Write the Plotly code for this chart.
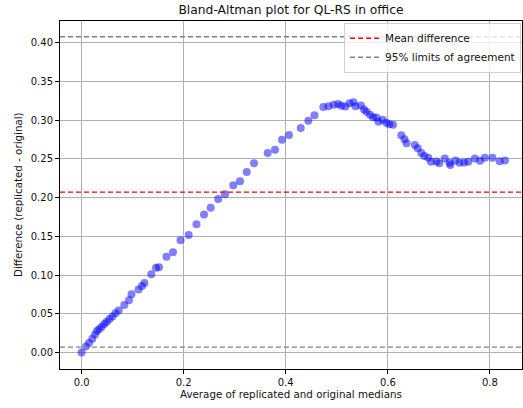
import plotly.graph_objects as go

# Average of replicated and original medians
avg_medians = [
    0.0000, 0.0086, 0.0145, 0.0210, 0.0263, 0.0302, 0.0347, 0.0394, 0.0445, 0.0492,
    0.0547, 0.0605, 0.0664, 0.0727, 0.0837, 0.0929, 0.0978, 0.1115, 0.1183, 0.1232,
    0.1366, 0.1458, 0.1516, 0.1663, 0.1791, 0.1938, 0.2098, 0.2251, 0.2398, 0.2529,
    0.2676, 0.2810, 0.2972, 0.3103, 0.3235, 0.3378, 0.3646, 0.3789, 0.3926, 0.4063,
    0.4293, 0.4442, 0.4563, 0.4736, 0.4837, 0.4939, 0.5027, 0.5088, 0.5167, 0.5249,
    0.5327, 0.5366, 0.5474, 0.5533, 0.5582, 0.5650, 0.5709, 0.5778, 0.5817, 0.5899,
    0.5970, 0.6029, 0.6101, 0.6264, 0.6326, 0.6366, 0.6528, 0.6585, 0.6655, 0.6714,
    0.6793, 0.6846, 0.6953, 0.7006, 0.7116, 0.7208, 0.7224, 0.7326, 0.7404, 0.7492,
    0.7574, 0.7704, 0.7806, 0.7900, 0.8050, 0.8190, 0.8295,
]

# Difference (replicated - original)
differences = [
    0.0000, 0.0077, 0.0123, 0.0178, 0.0232, 0.0278, 0.0303, 0.0332, 0.0368, 0.0398,
    0.0433, 0.0465, 0.0506, 0.0542, 0.0613, 0.0674, 0.0753, 0.0813, 0.0859, 0.0897,
    0.1010, 0.1095, 0.1100, 0.1237, 0.1295, 0.1450, 0.1517, 0.1655, 0.1782, 0.1870,
    0.1982, 0.2043, 0.2159, 0.2210, 0.2331, 0.2443, 0.2576, 0.2618, 0.2748, 0.2809,
    0.2899, 0.2993, 0.3064, 0.3170, 0.3179, 0.3198, 0.3209, 0.3187, 0.3176, 0.3219,
    0.3231, 0.3179, 0.3189, 0.3137, 0.3108, 0.3070, 0.3038, 0.3034, 0.2980, 0.3006,
    0.2966, 0.2946, 0.2940, 0.2806, 0.2753, 0.2701, 0.2679, 0.2637, 0.2576, 0.2537,
    0.2515, 0.2462, 0.2466, 0.2443, 0.2505, 0.2451, 0.2421, 0.2479, 0.2451, 0.2453,
    0.2462, 0.2505, 0.2476, 0.2515, 0.2515, 0.2470, 0.2480,
]

mean_diff = 0.2070
loa_upper = 0.4077
loa_lower = 0.0070

x_ticks = [0.0, 0.2, 0.4, 0.6, 0.8]
y_ticks = [0.00, 0.05, 0.10, 0.15, 0.20, 0.25, 0.30, 0.35, 0.40]

FONT = "DejaVu Sans"
GRID = "#b0b0b0"
TEXT = "#111111"

fig = go.Figure()

fig.add_trace(go.Scatter(
    x=avg_medians, y=differences, mode="markers",
    marker=dict(color="blue", opacity=0.5, size=8, line=dict(width=0)),
    showlegend=False, hoverinfo="skip",
))

fig.add_hline(y=mean_diff, line=dict(color="red", width=1.4, dash="5px,3px"),
              showlegend=True, name="Mean difference")
fig.add_hline(y=loa_upper, line=dict(color="gray", width=1.4, dash="5px,3px"),
              showlegend=True, name="95% limits of agreement")
fig.add_hline(y=loa_lower, line=dict(color="gray", width=1.4, dash="5px,3px"),
              showlegend=False)

axis_common = dict(
    showline=True, linecolor="black", linewidth=1, mirror=True,
    ticks="outside", ticklen=4, tickcolor="black", tickwidth=1,
    showgrid=True, gridcolor=GRID, gridwidth=0.8,
    zeroline=False, tickfont=dict(family=FONT, size=10, color=TEXT),
)

fig.update_xaxes(range=[-0.0423, 0.8628], tickvals=x_ticks, tickformat=".1f",
                 **axis_common)
fig.update_yaxes(range=[-0.0213, 0.4280], tickvals=y_ticks, tickformat=".2f",
                 **axis_common)

fig.update_layout(
    width=523, height=408,
    margin=dict(l=60, r=1, t=21, b=39),
    paper_bgcolor="white", plot_bgcolor="white",
    font=dict(family=FONT, size=10.3, color=TEXT),
    title=dict(text="Bland-Altman plot for QL-RS in office",
               font=dict(family=FONT, size=12.3, color=TEXT),
               x=0.5, xref="paper", xanchor="center",
               y=1 - 10 / 408, yref="container", yanchor="middle"),
    legend=dict(x=0.998, xanchor="right", y=0.995, yanchor="top",
                bgcolor="rgba(255,255,255,0.8)", bordercolor="#d0d0d0",
                borderwidth=1, font=dict(family=FONT, size=10.5, color=TEXT),
                itemwidth=30, tracegroupgap=0),
    annotations=[
        dict(text="Average of replicated and original medians",
             xref="paper", yref="paper", x=0.5, y=0, xanchor="center",
             yanchor="middle", yshift=-25, showarrow=False,
             font=dict(family=FONT, size=10.3, color=TEXT)),
        dict(text="Difference (replicated - original)", textangle=-90,
             xref="paper", yref="paper", x=0, y=0.5, xanchor="center",
             yanchor="middle", xshift=-42, showarrow=False,
             font=dict(family=FONT, size=10.3, color=TEXT)),
    ],
)

fig.write_html("out.html")
